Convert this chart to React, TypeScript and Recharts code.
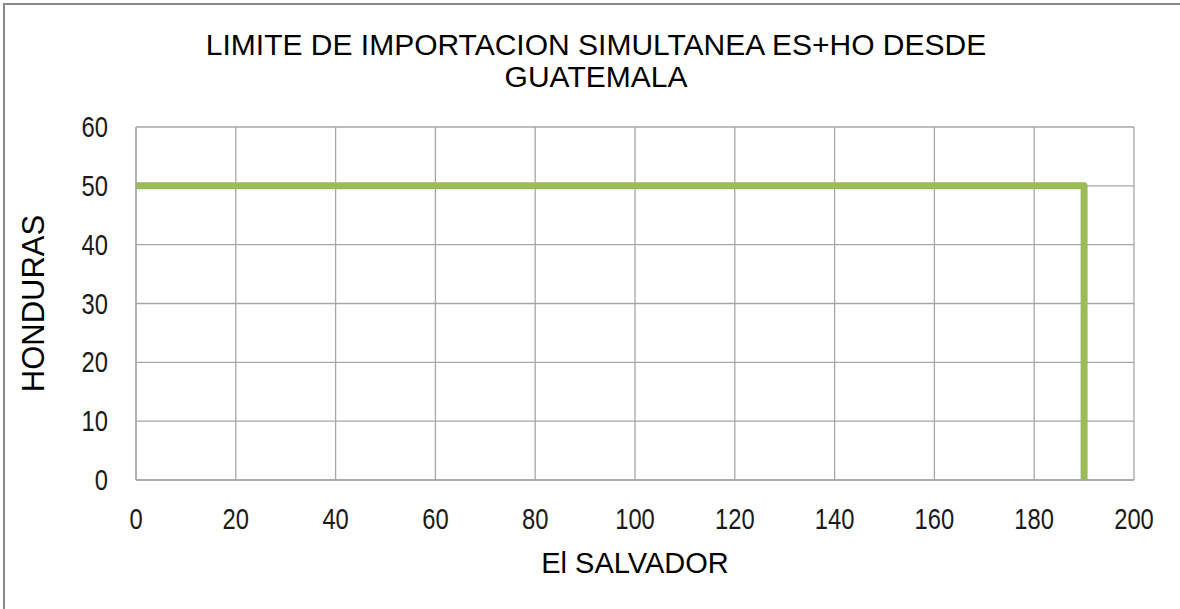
import { LineChart, Line, XAxis, YAxis, CartesianGrid } from "recharts"

const titleLines = ["LIMITE DE IMPORTACION SIMULTANEA ES+HO DESDE", "GUATEMALA"]
const xTicks = [0, 20, 40, 60, 80, 100, 120, 140, 160, 180, 200]
const yTicks = [0, 10, 20, 30, 40, 50, 60]
const elSalvador = [0, 190, 190]
const honduras = [50, 50, 0]

const data = elSalvador.map((x, i) => ({ x, y: honduras[i] }))

const gridColor = "#a6a6a6"
const labelFont = "'Liberation Sans', Arial, sans-serif"

// Calibri-like narrow ticks: squeeze Liberation Sans horizontally
const NarrowTick = (props: any) => {
  const { x, y, payload, textAnchor, orientation } = props
  const dy = orientation === "bottom" ? 21 : 10
  return (
    <text
      transform={`translate(${x} ${y}) scale(0.82 1)`}
      dy={dy}
      textAnchor={textAnchor}
      fontFamily={labelFont}
      fontSize={29}
      fill="#1a1a1a"
    >
      {payload.value}
    </text>
  )
}

export default function App() {
  return (
    <div style={{ position: "absolute", left: 0, top: 0, width: 1180, height: 609, overflow: "hidden", background: "#fff" }}>
      <div
        style={{
          position: "absolute",
          left: 3,
          top: 3,
          width: 1300,
          height: 700,
          borderLeft: "2px solid #888",
          borderTop: "2px solid #888",
        }}
      />
      <svg width={1180} height={100} style={{ position: "absolute", left: 0, top: 0 }}>
        {titleLines.map((t, i) => (
          <text key={i} x={596} y={55 + i * 32} textAnchor="middle" fontFamily={labelFont} fontSize={30} fill="#000">
            {t}
          </text>
        ))}
      </svg>
      <div style={{ position: "absolute", left: 0, top: 0 }}>
        <LineChart width={1180} height={609} data={data} margin={{ top: 127, right: 46, bottom: 0, left: 0 }}>
          <CartesianGrid stroke={gridColor} strokeWidth={1.3} />
          <XAxis
            dataKey="x"
            type="number"
            domain={[0, 200]}
            ticks={xTicks}
            height={129}
            tickSize={0}
            tickMargin={28}
            tickLine={false}
            axisLine={{ stroke: gridColor, strokeWidth: 1.3 }}
            tick={<NarrowTick />}
            label={{ value: "El SALVADOR", position: "insideBottom", offset: 36, fill: "#000", fontSize: 29, fontFamily: labelFont }}
          />
          <YAxis
            type="number"
            domain={[0, 60]}
            ticks={yTicks}
            width={136}
            tickSize={0}
            tickMargin={28}
            tickLine={false}
            axisLine={{ stroke: gridColor, strokeWidth: 1.3 }}
            tick={<NarrowTick />}
            label={(props: any) => {
              const vb = props.viewBox
              const cx = vb.x + 33
              const cy = vb.y + vb.height / 2
              return (
                <text
                  x={cx}
                  y={cy}
                  transform={`rotate(-90 ${cx} ${cy})`}
                  textAnchor="middle"
                  dominantBaseline="central"
                  fontFamily={labelFont}
                  fontSize={31}
                  fill="#000"
                >
                  HONDURAS
                </text>
              )
            }}
          />
          <Line
            dataKey="y"
            type="linear"
            stroke="#9bbb59"
            strokeWidth={7}
            strokeLinejoin="round"
            dot={false}
            activeDot={false}
            isAnimationActive={false}
          />
        </LineChart>
      </div>
    </div>
  )
}
